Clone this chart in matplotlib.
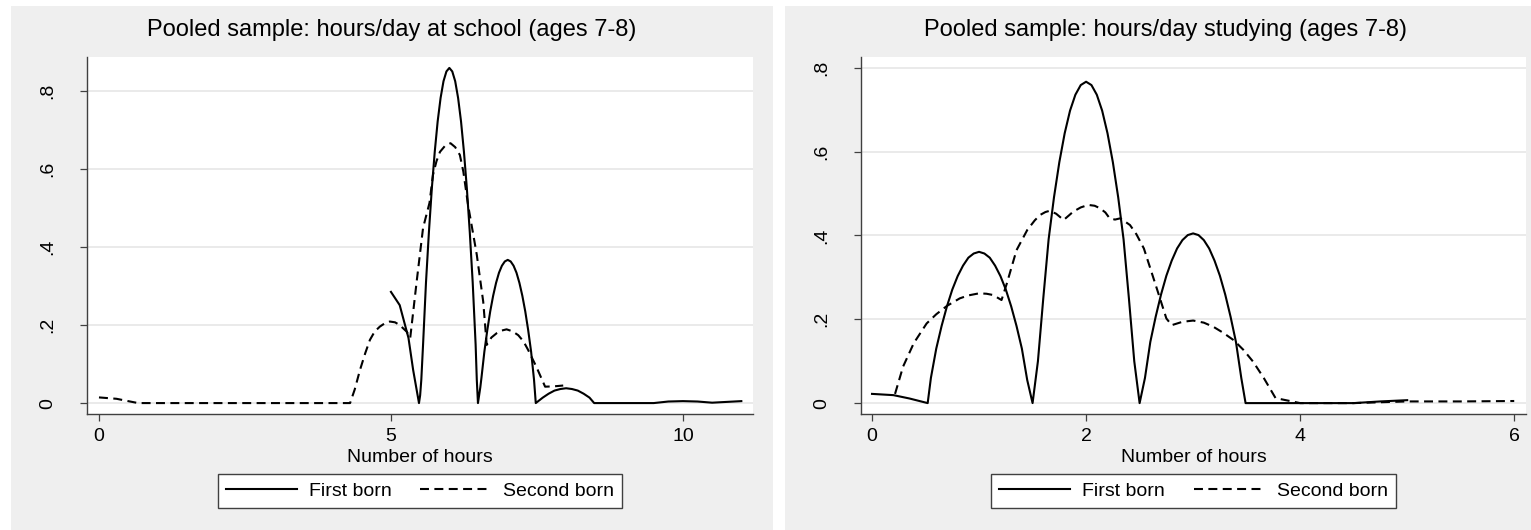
import matplotlib
matplotlib.use("Agg")
import matplotlib.pyplot as plt
from matplotlib.patches import Rectangle

plt.rcParams['font.family'] = ['Liberation Sans', 'DejaVu Sans']

# hours/day at school, ages 7-8
school_fb_x = [5.0, 5.15, 5.3, 5.38, 5.48, 5.5, 5.52, 5.55, 5.6, 5.65, 5.7, 5.75, 5.8, 5.85, 5.9, 5.95,
               6.0, 6.05, 6.1, 6.15, 6.2, 6.25, 6.3, 6.35, 6.4, 6.45, 6.47, 6.49,
               6.51, 6.53, 6.55, 6.6, 6.65, 6.7, 6.75, 6.8, 6.85, 6.9, 6.95, 7.0,
               7.05, 7.1, 7.15, 7.2, 7.25, 7.3, 7.35, 7.4, 7.45, 7.48,
               7.6, 7.7, 7.8, 7.9, 8.0, 8.1, 8.2, 8.3, 8.4, 8.48,
               9.0, 9.5, 9.75, 10.0, 10.25, 10.5, 10.75, 11.0]
school_fb_y = [0.285, 0.251, 0.167, 0.085, 0.0, 0.02, 0.06, 0.15, 0.309, 0.438, 0.550, 0.644, 0.722, 0.782, 0.825, 0.850,
               0.859, 0.850, 0.825, 0.782, 0.722, 0.644, 0.550, 0.438, 0.309, 0.15, 0.06, 0.0,
               0.02, 0.04, 0.065, 0.132, 0.187, 0.235, 0.275, 0.308, 0.334, 0.352, 0.363, 0.367,
               0.363, 0.352, 0.334, 0.308, 0.275, 0.235, 0.187, 0.132, 0.06, 0.0,
               0.014, 0.024, 0.032, 0.036, 0.038, 0.036, 0.032, 0.024, 0.014, 0.0,
               0.0, 0.0, 0.004, 0.005, 0.004, 0.001, 0.003, 0.005]

school_sb_x = [0.0, 0.3, 0.5, 0.67, 1.5, 2.5, 3.5, 4.30, 4.38, 4.47, 4.56, 4.64, 4.72, 4.81, 4.9, 4.98,
               5.07, 5.15, 5.22, 5.27, 5.33, 5.44, 5.55, 5.66, 5.72, 5.78, 5.84, 5.93, 6.02, 6.1,
               6.18, 6.24, 6.32, 6.4, 6.47, 6.58, 6.64, 6.72, 6.81, 6.9, 6.98, 7.08, 7.18, 7.27,
               7.35, 7.49, 7.64, 7.8, 7.95]
school_sb_y = [0.0145, 0.011, 0.005, 0.0, 0.0, 0.0, 0.0, 0.0, 0.035, 0.085, 0.128, 0.162, 0.183, 0.196, 0.205, 0.209,
               0.207, 0.2, 0.19, 0.183, 0.167, 0.311, 0.449, 0.513, 0.585, 0.62, 0.644, 0.66, 0.666, 0.656,
               0.636, 0.593, 0.508, 0.44, 0.38, 0.26, 0.149, 0.168, 0.179, 0.186, 0.189, 0.184, 0.174, 0.158,
               0.136, 0.093, 0.042, 0.043, 0.045]

# hours/day studying, ages 7-8
study_fb_x = [0.0, 0.2, 0.35, 0.52, 0.55, 0.6, 0.65, 0.7, 0.75, 0.8, 0.85, 0.9, 0.95, 1.0,
              1.05, 1.1, 1.15, 1.2, 1.25, 1.3, 1.35, 1.4, 1.45, 1.5,
              1.55, 1.6, 1.65, 1.7, 1.75, 1.8, 1.85, 1.9, 1.95, 2.0,
              2.05, 2.1, 2.15, 2.2, 2.25, 2.3, 2.35, 2.4, 2.45, 2.5,
              2.55, 2.6, 2.65, 2.7, 2.75, 2.8, 2.85, 2.9, 2.95, 3.0,
              3.05, 3.1, 3.15, 3.2, 3.25, 3.3, 3.35, 3.4, 3.45, 3.49,
              4.0, 4.5, 4.75, 5.0]
study_fb_y = [0.022, 0.019, 0.011, 0.0, 0.06, 0.130, 0.184, 0.231, 0.271, 0.303, 0.328, 0.347, 0.357, 0.361,
              0.357, 0.347, 0.328, 0.303, 0.271, 0.231, 0.184, 0.130, 0.055, 0.0,
              0.10, 0.25, 0.391, 0.491, 0.575, 0.644, 0.698, 0.736, 0.759, 0.767,
              0.759, 0.736, 0.698, 0.644, 0.575, 0.491, 0.391, 0.25, 0.10, 0.0,
              0.06, 0.146, 0.206, 0.259, 0.304, 0.340, 0.369, 0.389, 0.401, 0.405,
              0.401, 0.389, 0.369, 0.340, 0.304, 0.259, 0.206, 0.146, 0.06, 0.0,
              0.0, 0.0, 0.004, 0.007]

study_sb_x = [0.215, 0.29, 0.39, 0.51, 0.6, 0.7, 0.82, 0.9, 1.0, 1.07, 1.13, 1.21, 1.26, 1.35, 1.45,
              1.52, 1.57, 1.62, 1.66, 1.72, 1.79, 1.84, 1.88, 1.95, 2.02, 2.08, 2.13, 2.18, 2.22, 2.27,
              2.32, 2.41, 2.47, 2.54, 2.66, 2.75, 2.80, 2.9, 3.0, 3.1, 3.19, 3.28, 3.38, 3.47, 3.56,
              3.66, 3.77, 4.0, 4.5, 5.0, 5.5, 6.0]
study_sb_y = [0.022, 0.087, 0.143, 0.19, 0.212, 0.232, 0.25, 0.257, 0.262, 0.261, 0.258, 0.246, 0.286, 0.365, 0.413,
              0.436, 0.449, 0.456, 0.459, 0.452, 0.437, 0.448, 0.457, 0.467, 0.473, 0.471, 0.465, 0.455, 0.441, 0.438,
              0.441, 0.425, 0.403, 0.369, 0.274, 0.202, 0.186, 0.194, 0.197, 0.192, 0.182, 0.168, 0.150, 0.127, 0.099,
              0.06, 0.012, 0.0, 0.0, 0.004, 0.004, 0.005]

titles = ['Pooled sample: hours/day at school (ages 7-8)',
          'Pooled sample: hours/day studying (ages 7-8)']
xticks = [[0, 5, 10], [0, 2, 4, 6]]
yticks = [0, 0.2, 0.4, 0.6, 0.8]
ytick_labels = ['0', '.2', '.4', '.6', '.8']
labels = ['First born', 'Second born']

W, H = 1531, 530
fig = plt.figure(figsize=(W / 100, H / 100), dpi=100)
bg = '#efefef'

# grey graph regions (pixel boxes: left, top, right, bottom)
panels = [(11, 6, 773, 530), (785, 6, 1531, 530)]
for l, t, r, b in panels:
    fig.patches.append(Rectangle((l / W, 1 - b / H), (r - l) / W, (b - t) / H,
                                 transform=fig.transFigure, facecolor=bg,
                                 edgecolor='none', zorder=-10))

# plot regions in pixels
plot_boxes = [(87, 57, 753, 414), (861, 57, 1526, 414)]
xlims = [(-0.205, 11.2), (-0.103, 6.11)]
ylims = [(-0.028, 0.887), (-0.026, 0.826)]
data = [(school_fb_x, school_fb_y, school_sb_x, school_sb_y),
        (study_fb_x, study_fb_y, study_sb_x, study_sb_y)]
title_cx = [392, 1165]

for i in range(2):
    l, t, r, b = plot_boxes[i]
    ax = fig.add_axes([l / W, 1 - b / H, (r - l) / W, (b - t) / H])
    fx, fy, sx, sy = data[i]
    ax.plot(fx, fy, color='black', lw=1.5, label=labels[0])
    ax.plot(sx, sy, color='black', lw=1.5, ls=(0, (4.3, 2.6)), label=labels[1])
    ax.set_xlim(*xlims[i])
    ax.set_ylim(*ylims[i])
    ax.set_xticks(xticks[i])
    ax.set_yticks(yticks)
    ax.set_yticklabels(ytick_labels, rotation=90, va='center')
    ax.tick_params(axis='both', labelsize=14, length=5, width=0.9, color='#404040')
    ax.tick_params(axis='y', pad=17)
    ax.tick_params(axis='x', pad=5)
    ax.grid(axis='y', color='#e6e6e6', lw=1.2)
    ax.set_axisbelow(True)
    for s in ['top', 'right']:
        ax.spines[s].set_visible(False)
    for s in ['left', 'bottom']:
        ax.spines[s].set_color('#404040')
        ax.spines[s].set_linewidth(1.0)
    ax.set_xlabel('Number of hours', fontsize=14, labelpad=3)
    fig.text(title_cx[i] / W, 1 - 30 / H, titles[i], fontsize=17,
             ha='center', va='center')
    h, lb = ax.get_legend_handles_labels()
    fig.legend(h, lb, loc='center', ncol=2, fontsize=14,
               bbox_to_anchor=((l + r) / 2 / W, 1 - 491 / H),
               frameon=True, fancybox=False, framealpha=1, edgecolor='#404040',
               handlelength=3.66, handletextpad=0.62, columnspacing=1.47,
               borderpad=0.4)

fig.savefig('out.png', dpi=100)
